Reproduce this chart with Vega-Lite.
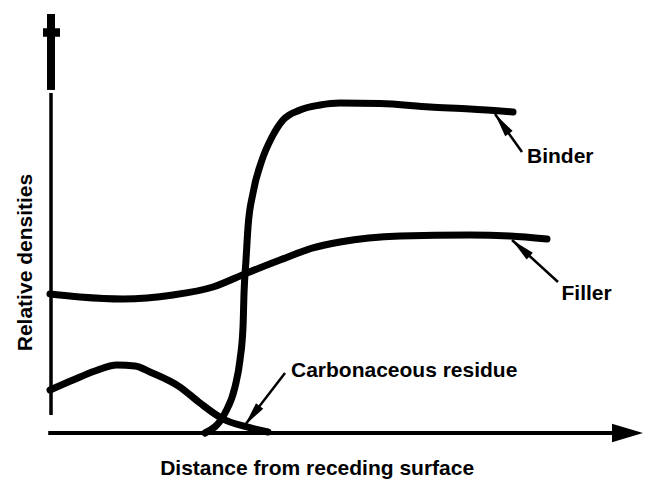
{
  "$schema": "https://vega.github.io/schema/vega-lite/v6.json",
  "width": 595,
  "height": 423,
  "autosize": {"type": "none"},
  "padding": {"left": 50, "top": 10, "right": 0, "bottom": 50},
  "background": "white",
  "config": {"view": {"stroke": null}},
  "datasets": {
    "curves": [
      {"series": "Binder", "i": 1, "d": 26.05, "rho": 0},
      {"series": "Binder", "i": 2, "d": 29.41, "rho": 4.73},
      {"series": "Binder", "i": 3, "d": 31.09, "rho": 10.87},
      {"series": "Binder", "i": 4, "d": 31.93, "rho": 17.26},
      {"series": "Binder", "i": 5, "d": 32.44, "rho": 25.06},
      {"series": "Binder", "i": 6, "d": 32.61, "rho": 33.1},
      {"series": "Binder", "i": 7, "d": 32.94, "rho": 40.9},
      {"series": "Binder", "i": 8, "d": 33.28, "rho": 48.7},
      {"series": "Binder", "i": 9, "d": 34.12, "rho": 56.74},
      {"series": "Binder", "i": 10, "d": 35.63, "rho": 64.54},
      {"series": "Binder", "i": 11, "d": 37.31, "rho": 69.98},
      {"series": "Binder", "i": 12, "d": 39.16, "rho": 74.0},
      {"series": "Binder", "i": 13, "d": 42.02, "rho": 76.36},
      {"series": "Binder", "i": 14, "d": 45.38, "rho": 77.54},
      {"series": "Binder", "i": 15, "d": 48.74, "rho": 78.01},
      {"series": "Binder", "i": 16, "d": 55.46, "rho": 77.9},
      {"series": "Binder", "i": 17, "d": 63.87, "rho": 77.07},
      {"series": "Binder", "i": 18, "d": 70.59, "rho": 76.6},
      {"series": "Binder", "i": 19, "d": 77.82, "rho": 75.89},
      {"series": "Filler", "i": 1, "d": 0, "rho": 32.86},
      {"series": "Filler", "i": 2, "d": 5.04, "rho": 32.15},
      {"series": "Filler", "i": 3, "d": 12.27, "rho": 31.68},
      {"series": "Filler", "i": 4, "d": 20.67, "rho": 32.62},
      {"series": "Filler", "i": 5, "d": 27.39, "rho": 34.52},
      {"series": "Filler", "i": 6, "d": 33.11, "rho": 37.83},
      {"series": "Filler", "i": 7, "d": 38.66, "rho": 40.9},
      {"series": "Filler", "i": 8, "d": 44.2, "rho": 43.74},
      {"series": "Filler", "i": 9, "d": 48.74, "rho": 45.15},
      {"series": "Filler", "i": 10, "d": 58.82, "rho": 46.57},
      {"series": "Filler", "i": 11, "d": 70.59, "rho": 46.81},
      {"series": "Filler", "i": 12, "d": 77.31, "rho": 46.57},
      {"series": "Filler", "i": 13, "d": 83.53, "rho": 45.86},
      {"series": "Residue", "i": 1, "d": 0, "rho": 10.17},
      {"series": "Residue", "i": 2, "d": 3.87, "rho": 12.53},
      {"series": "Residue", "i": 3, "d": 7.56, "rho": 14.66},
      {"series": "Residue", "i": 4, "d": 11.26, "rho": 16.08},
      {"series": "Residue", "i": 5, "d": 14.29, "rho": 15.84},
      {"series": "Residue", "i": 6, "d": 16.81, "rho": 14.42},
      {"series": "Residue", "i": 7, "d": 21.85, "rho": 10.87},
      {"series": "Residue", "i": 8, "d": 25.21, "rho": 7.09},
      {"series": "Residue", "i": 9, "d": 29.08, "rho": 3.31},
      {"series": "Residue", "i": 10, "d": 33.11, "rho": 1.42},
      {"series": "Residue", "i": 11, "d": 36.64, "rho": 0.24}
    ],
    "shafts": [
      {"x": 79.33, "y": 66.43, "x2": 74.79, "y2": 75.41},
      {"x": 85.38, "y": 35.7, "x2": 77.65, "y2": 45.63},
      {"x": 39.5, "y": 14.18, "x2": 32.77, "y2": 1.89}
    ]
  },
  "layer": [
    {
      "data": {"values": [{"x": 0.17, "y": 4.26, "y2": 80.38}]},
      "mark": {"type": "rule", "strokeWidth": 3.5, "color": "black"},
      "encoding": {
        "x": {"field": "x", "type": "quantitative", "scale": {"domain": [0, 100], "nice": false, "zero": false}, "axis": null},
        "y": {"field": "y", "type": "quantitative", "scale": {"domain": [0, 100], "nice": false, "zero": false}, "axis": null},
        "y2": {"field": "y2"}
      }
    },
    {
      "data": {"values": [{"x": -0.3, "x2": 94.96, "y": 0}]},
      "mark": {"type": "rule", "strokeWidth": 4, "color": "black"},
      "encoding": {
        "x": {"field": "x", "type": "quantitative", "scale": {"domain": [0, 100], "nice": false, "zero": false}, "axis": null},
        "x2": {"field": "x2"},
        "y": {"field": "y", "type": "quantitative", "scale": {"domain": [0, 100], "nice": false, "zero": false}, "axis": null}
      }
    },
    {
      "data": {"values": [{"x": 0.17, "y": 81.1, "y2": 99.05}]},
      "mark": {"type": "rule", "strokeWidth": 8, "color": "black"},
      "encoding": {
        "x": {"field": "x", "type": "quantitative", "scale": {"domain": [0, 100], "nice": false, "zero": false}, "axis": null},
        "y": {"field": "y", "type": "quantitative", "scale": {"domain": [0, 100], "nice": false, "zero": false}, "axis": null},
        "y2": {"field": "y2"}
      }
    },
    {
      "data": {"values": [{"x": -1.18, "x2": 1.68, "y": 94.68}]},
      "mark": {"type": "rule", "strokeWidth": 8.5, "color": "black"},
      "encoding": {
        "x": {"field": "x", "type": "quantitative", "scale": {"domain": [0, 100], "nice": false, "zero": false}, "axis": null},
        "x2": {"field": "x2"},
        "y": {"field": "y", "type": "quantitative", "scale": {"domain": [0, 100], "nice": false, "zero": false}, "axis": null}
      }
    },
    {
      "data": {"values": [{"x": 97.06, "y": 0}]},
      "mark": {"type": "point", "shape": "M0,-1L0.6,1L-0.6,1Z", "size": 961, "angle": 90, "filled": true, "color": "black", "opacity": 1},
      "encoding": {
        "x": {"field": "x", "type": "quantitative", "scale": {"domain": [0, 100], "nice": false, "zero": false}, "axis": null},
        "y": {"field": "y", "type": "quantitative", "scale": {"domain": [0, 100], "nice": false, "zero": false}, "axis": null}
      }
    },
    {
      "data": {"name": "curves"},
      "mark": {"type": "line", "strokeWidth": 7, "color": "black", "interpolate": "monotone", "strokeCap": "round"},
      "encoding": {
        "x": {"field": "d", "type": "quantitative", "scale": {"domain": [0, 100], "nice": false, "zero": false}, "axis": null},
        "y": {"field": "rho", "type": "quantitative", "scale": {"domain": [0, 100], "nice": false, "zero": false}, "axis": null},
        "detail": {"field": "series"},
        "order": {"field": "i", "type": "quantitative"}
      }
    },
    {
      "data": {"name": "shafts"},
      "mark": {"type": "rule", "strokeWidth": 2.5, "color": "black"},
      "encoding": {
        "x": {"field": "x", "type": "quantitative", "scale": {"domain": [0, 100], "nice": false, "zero": false}, "axis": null},
        "y": {"field": "y", "type": "quantitative", "scale": {"domain": [0, 100], "nice": false, "zero": false}, "axis": null},
        "x2": {"field": "x2"},
        "y2": {"field": "y2"}
      }
    },
    {
      "data": {"values": [{"x": 75.96, "y": 73.1}]},
      "mark": {"type": "point", "shape": "M0,-1L0.38,1L-0.38,1Z", "size": 576, "angle": -35.4, "filled": true, "color": "black", "opacity": 1},
      "encoding": {
        "x": {"field": "x", "type": "quantitative", "scale": {"domain": [0, 100], "nice": false, "zero": false}, "axis": null},
        "y": {"field": "y", "type": "quantitative", "scale": {"domain": [0, 100], "nice": false, "zero": false}, "axis": null}
      }
    },
    {
      "data": {"values": [{"x": 79.14, "y": 43.71}]},
      "mark": {"type": "point", "shape": "M0,-1L0.38,1L-0.38,1Z", "size": 576, "angle": -47.6, "filled": true, "color": "black", "opacity": 1},
      "encoding": {
        "x": {"field": "x", "type": "quantitative", "scale": {"domain": [0, 100], "nice": false, "zero": false}, "axis": null},
        "y": {"field": "y", "type": "quantitative", "scale": {"domain": [0, 100], "nice": false, "zero": false}, "axis": null}
      }
    },
    {
      "data": {"values": [{"x": 34.0, "y": 4.14}]},
      "mark": {"type": "point", "shape": "M0,-1L0.38,1L-0.38,1Z", "size": 576, "angle": -142.4, "filled": true, "color": "black", "opacity": 1},
      "encoding": {
        "x": {"field": "x", "type": "quantitative", "scale": {"domain": [0, 100], "nice": false, "zero": false}, "axis": null},
        "y": {"field": "y", "type": "quantitative", "scale": {"domain": [0, 100], "nice": false, "zero": false}, "axis": null}
      }
    },
    {
      "data": {"values": [
        {"label": "Binder", "x": 80.17, "y": 63.83},
        {"label": "Filler", "x": 85.97, "y": 31.44},
        {"label": "Carbonaceous residue", "x": 40.5, "y": 13.3}
      ]},
      "mark": {"type": "text", "align": "left", "baseline": "alphabetic", "font": "Liberation Sans", "fontWeight": "bold", "fontSize": 21, "color": "black"},
      "encoding": {
        "x": {"field": "x", "type": "quantitative", "scale": {"domain": [0, 100], "nice": false, "zero": false}, "axis": null},
        "y": {"field": "y", "type": "quantitative", "scale": {"domain": [0, 100], "nice": false, "zero": false}, "axis": null},
        "text": {"field": "label"}
      }
    },
    {
      "data": {"values": [{"label": "Distance from  receding surface", "x": 44.9, "y": -9.93}]},
      "mark": {"type": "text", "align": "center", "baseline": "alphabetic", "font": "Liberation Sans", "fontWeight": "bold", "fontSize": 21, "color": "black"},
      "encoding": {
        "x": {"field": "x", "type": "quantitative", "scale": {"domain": [0, 100], "nice": false, "zero": false}, "axis": null},
        "y": {"field": "y", "type": "quantitative", "scale": {"domain": [0, 100], "nice": false, "zero": false}, "axis": null},
        "text": {"field": "label"}
      }
    },
    {
      "data": {"values": [{"label": "Relative densities", "x": -3.1, "y": 40.3}]},
      "mark": {"type": "text", "align": "center", "baseline": "alphabetic", "angle": 270, "font": "Liberation Sans", "fontWeight": "bold", "fontSize": 21, "color": "black"},
      "encoding": {
        "x": {"field": "x", "type": "quantitative", "scale": {"domain": [0, 100], "nice": false, "zero": false}, "axis": null},
        "y": {"field": "y", "type": "quantitative", "scale": {"domain": [0, 100], "nice": false, "zero": false}, "axis": null},
        "text": {"field": "label"}
      }
    }
  ]
}
